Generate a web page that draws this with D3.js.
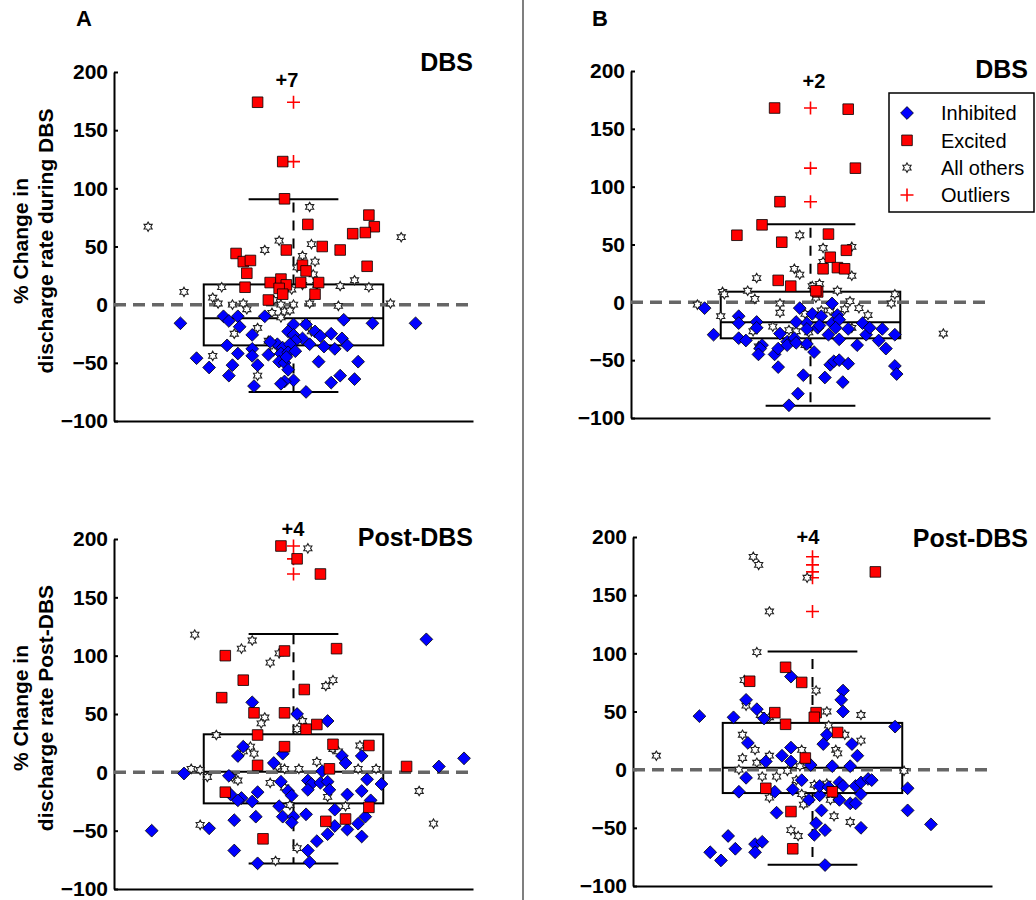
<!DOCTYPE html>
<html>
<head>
<meta charset="utf-8">
<script src="https://cdn.jsdelivr.net/npm/d3@7"></script>
<style>
  body { margin: 0; background: #fff; }
  svg { display: block; font-family: "Liberation Sans", Arial, sans-serif; }
</style>
</head>
<body>
<div id="fig"></div>
<script>
// points are [jitter, % change]; jitter runs -1..1 across the axis, box spans -0.5..0.5
var yTicks = [-100, -50, 0, 50, 100, 150, 200];

// ---- A, during DBS
var dbsA_inh = [[-0.63,-16],[0.68,-16],[0.44,-16],[0.28,-13],[-0.39,-10],[-0.31,-10],[-0.16,-10],[-0.36,-14],[-0.30,-19],[-0.23,-26],[0,-17],[0.07,-17],[-0.03,-23],[0,-26],[0.12,-23],[0.15,-27],[0.21,-25],[0.05,-29],[0.01,-31],[0.27,-29],[0.30,-35],[-0.37,-35],[-0.23,-38],[-0.09,-34],[-0.06,-37],[-0.02,-34],[0.09,-34],[0.17,-36],[0.23,-38],[-0.31,-42],[-0.14,-43],[-0.07,-42],[-0.03,-41],[0.01,-40],[-0.54,-46],[0.36,-49],[0.14,-49],[-0.23,-44],[-0.47,-54],[-0.34,-52],[-0.20,-52],[-0.08,-49],[-0.05,-50],[-0.03,-56],[-0.36,-61],[0.26,-61],[0.34,-64],[0.21,-67],[0,-65],[-0.05,-66],[-0.07,-68],[-0.22,-70],[0.07,-75],[-0.13,-32],[-0.04,-45]];
var dbsA_exc = [[-0.20,174],[-0.06,123],[-0.05,91],[0.08,69],[0.42,77],[0.45,67],[0.40,62],[0.33,61],[0.16,50],[0.26,47],[-0.04,47],[-0.32,44],[-0.28,37],[-0.24,38],[-0.26,27],[0.41,33],[0.05,34],[0.07,29],[-0.13,19],[-0.07,22],[-0.04,17],[-0.08,14],[0.04,19],[0.14,19],[0.12,9],[-0.06,9],[-0.27,15],[-0.14,4]];
var dbsA_oth = [[-0.81,67],[0.60,58],[0.09,84],[-0.08,55],[0.10,52],[-0.16,47],[0.05,42],[0.12,37],[0.02,32],[0.11,26],[0.05,17],[0.13,17],[0.26,16],[0.34,21],[0.42,15],[-0.40,15],[-0.61,11],[-0.01,13],[-0.45,6],[-0.42,1],[-0.34,0],[-0.28,1],[-0.26,-4],[0,0],[0.09,1],[0.25,-1],[0.54,1],[-0.11,4],[-0.07,0],[-0.05,-6],[-0.02,-5],[-0.12,-7],[-0.07,-11],[-0.20,-20],[-0.33,-25],[0.07,-16],[0.10,-23],[-0.14,-31],[-0.45,-44],[-0.20,-61],[-0.11,-40]];
var dbsA_out = [174, 123];
var dbsA_box = [-75, -35, -11.7, 17.4, 90.6];   // low whisker, q1, median, q3, high whisker

// ---- B, during DBS
var dbsB_inh = [[-0.59,-5],[-0.54,-28],[-0.40,-12],[-0.40,-18],[-0.40,-31],[-0.36,-33],[-0.30,-17],[-0.30,-22],[-0.27,-37],[-0.28,-40],[-0.29,-45],[-0.20,-45],[-0.18,-40],[-0.17,-27],[-0.18,-56],[-0.13,-34],[-0.13,-37],[-0.08,-17],[-0.06,-5],[-0.09,-31],[-0.08,-35],[-0.02,-36],[-0.02,-18],[0.01,-10],[0.02,-43],[-0.04,-63],[-0.07,-79],[-0.12,-89],[0.04,-22],[0.06,-12],[0.05,-20],[0.12,-1],[0.12,-18],[0.15,-11],[0.16,-15],[0.10,-28],[0.14,-22],[0.16,-32],[0.11,-54],[0.13,-51],[0.16,-50],[0.21,-53],[0.08,-65],[0.18,-69],[0.21,-23],[0.26,-37],[0.29,-18],[0.31,-28],[0.33,-22],[0.38,-33],[0.40,-23],[0.42,-40],[0.47,-28],[0.47,-55],[0.48,-62],[-0.02,-23]];
var dbsB_exc = [[-0.20,168],[0.21,167],[0.25,116],[-0.17,87],[-0.27,67],[-0.41,58],[-0.16,52],[0.10,59],[0.20,45],[0.11,39],[0.07,29],[0.15,30],[0.19,29],[-0.18,19],[-0.11,14],[0.04,9],[0.03,10]];
var dbsB_oth = [[-0.63,-2],[0.74,-27],[-0.06,58],[0.07,47],[0.23,48],[0.07,35],[-0.09,29],[-0.06,24],[0.23,23],[-0.30,21],[-0.49,9],[-0.48,7],[-0.35,10],[-0.31,3],[0.01,14],[0.05,16],[0.15,10],[0.03,4],[0.22,1],[0.27,-5],[0.32,-11],[0.47,7],[0.45,-1],[-0.17,-1],[-0.17,-9],[-0.50,-12],[-0.03,-10],[0.06,-7],[0.11,-7],[0.19,-6],[-0.21,-21],[-0.32,-25],[-0.12,-24],[-0.08,-25],[-0.01,-26],[0.23,-22],[-0.03,-37],[-0.29,-38]];
var dbsB_out = [168, 116, 87];
var dbsB_box = [-89.4, -31.1, -17.3, 9.2, 67.6];

// ---- A, post-DBS
var postA_inh = [[-0.79,-50],[-0.61,-1],[-0.47,-48],[0.74,114],[0.81,5],[0.95,12],[-0.23,60],[0.02,50],[0.19,44],[-0.28,22],[-0.31,14],[-0.06,16],[-0.11,8],[-0.36,-3],[0.16,1],[0.27,14],[0.29,8],[0.38,14],[0.41,-6],[0.49,-10],[-0.35,-19],[-0.29,-22],[-0.31,-24],[-0.23,-25],[-0.20,-17],[-0.07,-8],[-0.03,-16],[-0.01,-20],[-0.08,-29],[0.08,-7],[0.10,-10],[0.08,-15],[0.15,-9],[0.19,-8],[0.20,-15],[0.30,-19],[0.38,-16],[0.43,-24],[0.23,-32],[-0.21,-38],[-0.33,-41],[-0.06,-38],[0,-38],[-0.01,-43],[0.07,-36],[0.23,-46],[0.30,-49],[0.36,-44],[0.40,-38],[0.38,-55],[0.19,-53],[0.13,-59],[0.08,-67],[-0.33,-67],[-0.20,-78],[0.09,-77]];
var postA_exc = [[-0.07,194],[0.02,183],[0.15,170],[-0.38,100],[-0.05,104],[0.24,106],[-0.28,79],[0.06,71],[-0.40,64],[-0.22,51],[-0.05,51],[0.13,41],[0.07,37],[-0.20,32],[-0.05,22],[0.22,24],[0.42,23],[-0.20,6],[0.20,3],[0.63,5],[-0.38,-17],[0.42,-30],[0.18,-42],[0.29,-40],[-0.17,-57]];
var postA_oth = [[-0.55,118],[0.08,192],[-0.23,113],[-0.29,106],[-0.08,102],[-0.13,94],[0.22,79],[0.18,74],[-0.16,47],[-0.18,42],[0.05,44],[0.02,37],[-0.43,32],[-0.24,22],[-0.28,18],[-0.22,16],[0.37,23],[0.22,20],[0.25,18],[0.13,9],[-0.57,3],[-0.52,2],[-0.48,-4],[-0.09,5],[-0.05,3],[0.03,3],[0.36,3],[0.46,3],[-0.34,-4],[-0.31,-7],[-0.13,-9],[-0.05,-13],[-0.02,-28],[0.19,-21],[0.29,-29],[0.70,-16],[0.78,-44],[-0.52,-45],[0.02,-65],[-0.10,-76]];
var postA_out = [194, 183, 170];
var postA_box = [-78.2, -26.6, 0.6, 32.6, 118.5];

// ---- B, post-DBS
var postB_inh = [[-0.63,46],[-0.44,45],[0.46,37],[-0.12,80],[-0.37,60],[-0.31,52],[-0.27,44],[0.17,68],[0.16,60],[0.17,50],[0.08,30],[-0.36,23],[-0.17,12],[-0.12,19],[-0.26,7],[-0.12,7],[-0.01,4],[0.06,22],[0.11,3],[0.22,22],[0.25,12],[0.21,3],[-0.37,-7],[-0.41,-19],[-0.21,-19],[-0.11,-17],[-0.06,-9],[-0.02,-26],[0.04,-22],[0.04,-14],[0.09,-15],[0.15,-11],[0.17,-14],[0.15,-26],[0.21,-29],[0.24,-29],[0.24,-14],[0.27,-21],[0.27,-11],[0.31,-8],[0.33,-9],[0.53,-16],[0.53,-35],[0.66,-47],[-0.20,-37],[0.05,-35],[0.02,-46],[0.01,-56],[0.07,-52],[0.27,-50],[-0.47,-57],[-0.43,-68],[-0.57,-71],[-0.51,-78],[-0.32,-64],[-0.32,-71],[-0.28,-62],[0.07,-82]];
var postB_exc = [[0.35,170],[-0.15,88],[-0.06,75],[-0.35,76],[-0.21,49],[0.02,49],[0.01,45],[-0.15,39],[0.14,32],[-0.04,10],[-0.26,-16],[0.11,-19],[-0.12,-36],[-0.11,-68]];
var postB_oth = [[-0.87,12],[-0.33,183],[-0.30,176],[-0.03,165],[-0.24,136],[-0.31,101],[-0.38,77],[0.02,68],[-0.37,55],[-0.29,47],[-0.24,45],[0.08,50],[0.27,47],[0.09,38],[-0.39,30],[0.18,30],[0.27,25],[-0.32,17],[-0.39,10],[-0.24,12],[-0.31,6],[-0.06,17],[0.13,17],[0.14,14],[-0.07,3],[-0.14,-1],[-0.41,0],[-0.28,-6],[-0.20,-6],[-0.09,-9],[0.01,-13],[0.08,-12],[-0.06,-21],[-0.24,-24],[-0.05,-30],[0.10,-26],[0.12,-40],[0.21,-45],[-0.12,-52],[-0.08,-57],[0.51,-1]];
var postB_out = [183, 176, 170, 165, 136];
var postB_box = [-81.8, -20.1, 1.7, 40.2, 101.6];

var legendLabels = ["Inhibited", "Excited", "All others", "Outliers"];

var W = 1036, H = 900;
var svg = d3.select("#fig").append("svg").attr("width", W).attr("height", H);
svg.append("rect").attr("width", W).attr("height", H).attr("fill", "#fff");

// marker shapes (size is used as radius^2)
var symHex = { draw: function(c, s) {
    var r = Math.sqrt(s), ri = r / Math.sqrt(3);
    for (var i = 0; i < 12; i++) {
        var a = -Math.PI / 2 + i * Math.PI / 6, rr = i % 2 ? ri : r;
        if (i == 0) c.moveTo(rr * Math.cos(a), rr * Math.sin(a));
        else c.lineTo(rr * Math.cos(a), rr * Math.sin(a));
    }
    c.closePath();
}};
var symDia = { draw: function(c, s) {
    var r = Math.sqrt(s);
    c.moveTo(0, -r); c.lineTo(r, 0); c.lineTo(0, r); c.lineTo(-r, 0); c.closePath();
}};
var symSq = { draw: function(c, s) {
    var r = Math.sqrt(s);
    c.rect(-r, -r, 2 * r, 2 * r);
}};
var symPlus = { draw: function(c, s) {
    var r = Math.sqrt(s);
    c.moveTo(-r, 0); c.lineTo(r, 0); c.moveTo(0, -r); c.lineTo(0, r);
}};

var styles = {
    oth: { type: symHex, r: 4.7, fill: "#fff", stroke: "#222", sw: 1.1 },
    inh: { type: symDia, r: 6.4, fill: "#0000ff", stroke: "#000", sw: 0.8 },
    exc: { type: symSq, r: 5.3, fill: "#ff0000", stroke: "#000", sw: 0.8 },
    out: { type: symPlus, r: 6.5, fill: "none", stroke: "#ff0000", sw: 1.6 }
};

function marker(sel, st) {
    sel.attr("d", d3.symbol().type(st.type).size(st.r * st.r))
       .attr("fill", st.fill).attr("stroke", st.stroke).attr("stroke-width", st.sw);
}

var panels = [
    { x0: 114, x1: 473, y0: 72, y1: 421, inh: dbsA_inh, exc: dbsA_exc, oth: dbsA_oth, out: dbsA_out, box: dbsA_box,
      more: "+7", mx: 287, my: 87, title: "DBS", tx: 473, ty: 71,
      ylab: ["% Change in", "discharge rate during DBS"], ly: 241 },
    { x0: 631, x1: 990, y0: 71, y1: 418, inh: dbsB_inh, exc: dbsB_exc, oth: dbsB_oth, out: dbsB_out, box: dbsB_box,
      more: "+2", mx: 814, my: 88, title: "DBS", tx: 1028, ty: 78 },
    { x0: 114, x1: 473, y0: 539, y1: 889, inh: postA_inh, exc: postA_exc, oth: postA_oth, out: postA_out, box: postA_box,
      more: "+4", mx: 293, my: 536, title: "Post-DBS", tx: 473, ty: 546,
      ylab: ["% Change in", "discharge rate Post-DBS"], ly: 708 },
    { x0: 633, x1: 992, y0: 537, y1: 886, inh: postB_inh, exc: postB_exc, oth: postB_oth, out: postB_out, box: postB_box,
      more: "+4", mx: 808, my: 544, title: "Post-DBS", tx: 1028, ty: 547 }
];

function drawPanel(p) {
    var g = svg.append("g");
    var x = d3.scaleLinear().domain([-1, 1]).range([p.x0, p.x1]);
    var y = d3.scaleLinear().domain([-100, 200]).range([p.y1, p.y0]);

    var ya = g.append("g").attr("transform", "translate(" + p.x0 + ",0)")
        .call(d3.axisLeft(y).tickValues(yTicks).tickSizeInner(-4).tickSizeOuter(0).tickPadding(6));
    ya.selectAll("text").attr("font-size", 21).attr("font-weight", "bold").attr("fill", "#000")
        .attr("font-family", "Liberation Sans, Arial, sans-serif");
    ya.selectAll("line").attr("stroke", "#000").attr("stroke-width", 2);
    ya.select(".domain").attr("stroke", "#000").attr("stroke-width", 2);

    var xa = g.append("g").attr("transform", "translate(0," + p.y1 + ")")
        .call(d3.axisBottom(x).tickValues([]).tickSizeOuter(0));
    xa.select(".domain").attr("stroke", "#000").attr("stroke-width", 2);

    // box plot
    var b = p.box, bx = g.append("g").attr("stroke", "#000").attr("stroke-width", 2).attr("fill", "none");
    bx.append("rect").attr("x", x(-0.5)).attr("y", y(b[3]))
        .attr("width", x(0.5) - x(-0.5)).attr("height", y(b[1]) - y(b[3]));
    bx.append("line").attr("x1", x(-0.5)).attr("x2", x(0.5)).attr("y1", y(b[2])).attr("y2", y(b[2]));
    [[b[3], b[4]], [b[1], b[0]]].forEach(function(w) {
        bx.append("line").attr("x1", x(0)).attr("x2", x(0)).attr("y1", y(w[0])).attr("y2", y(w[1]))
            .attr("stroke-dasharray", "10,8");
        bx.append("line").attr("x1", x(-0.25)).attr("x2", x(0.25)).attr("y1", y(w[1])).attr("y2", y(w[1]));
    });

    // zero line
    g.append("line").attr("x1", x(-1)).attr("x2", x(1)).attr("y1", y(0)).attr("y2", y(0))
        .attr("stroke", "#666").attr("stroke-width", 3.5).attr("stroke-dasharray", "12,7");

    g.selectAll(".out").data(p.out).join("path").attr("class", "out")
        .attr("transform", function(d) { return "translate(" + x(0) + "," + y(d) + ")"; })
        .call(marker, styles.out);

    ["oth", "inh", "exc"].forEach(function(k) {
        g.selectAll("." + k).data(p[k]).join("path").attr("class", k)
            .attr("transform", function(d) { return "translate(" + x(d[0]) + "," + y(d[1]) + ")"; })
            .call(marker, styles[k]);
    });

    g.append("text").attr("x", p.mx).attr("y", p.my).attr("text-anchor", "middle")
        .attr("font-size", 20).attr("font-weight", "bold").text(p.more);
    g.append("text").attr("x", p.tx).attr("y", p.ty).attr("text-anchor", "end")
        .attr("font-size", 25).attr("font-weight", "bold").text(p.title);

    if (p.ylab) {
        [28, 53].forEach(function(lx, i) {
            g.append("text").attr("transform", "translate(" + lx + "," + p.ly + ") rotate(-90)")
                .attr("text-anchor", "middle").attr("font-size", 21).attr("font-weight", "bold")
                .text(p.ylab[i]);
        });
    }
}

panels.forEach(drawPanel);

// column letters and divider
svg.append("text").attr("x", 76).attr("y", 26).attr("font-size", 22).attr("font-weight", "bold").text("A");
svg.append("text").attr("x", 592).attr("y", 26).attr("font-size", 22).attr("font-weight", "bold").text("B");
svg.append("line").attr("x1", 523).attr("x2", 523).attr("y1", 0).attr("y2", H)
    .attr("stroke", "#555").attr("stroke-width", 1.5);

// legend
var lg = svg.append("g").attr("transform", "translate(889,93)");
lg.append("rect").attr("width", 145).attr("height", 119).attr("fill", "#fff")
    .attr("stroke", "#000").attr("stroke-width", 1.5);
var legKeys = ["inh", "exc", "oth", "out"];
var ly = d3.scalePoint().domain(legendLabels).range([20, 102]);
legendLabels.forEach(function(lab, i) {
    lg.append("path").attr("transform", "translate(18," + ly(lab) + ")").call(marker, styles[legKeys[i]]);
    lg.append("text").attr("x", 52).attr("y", ly(lab)).attr("dy", "0.36em")
        .attr("font-size", 20).text(lab);
});
</script>
</body>
</html>
